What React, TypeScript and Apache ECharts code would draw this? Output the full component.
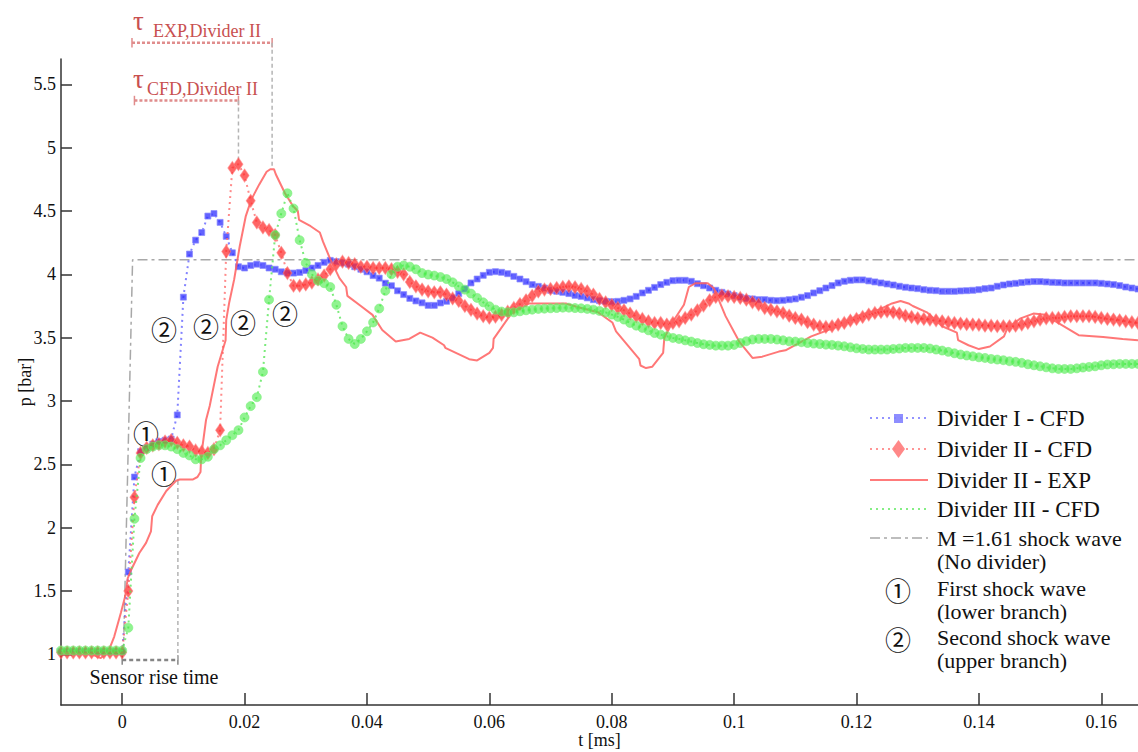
import React, { useEffect, useRef } from "react";
import * as echarts from "echarts";

// ---------- DATA ----------
const T_START = -0.01;
const T_STEP = 0.001;

const dividerI = [
  1.02, 1.02, 1.02, 1.02, 1.02, 1.02, 1.02, 1.02, 1.02, 1.02,
  1.02, 1.65, 2.40, 2.60, 2.63, 2.66, 2.68, 2.69, 2.70, 2.89,
  3.82, 4.16, 4.27, 4.33, 4.46, 4.48, 4.41, 4.30, 4.17, 4.06,
  4.05, 4.07, 4.08, 4.07, 4.05, 4.04, 4.02, 4.01, 4.01, 4.015,
  4.03, 4.05, 4.07, 4.095, 4.11, 4.10, 4.09, 4.08, 4.06, 4.04,
  4.02, 3.99, 3.97, 3.93, 3.91, 3.87, 3.84, 3.81, 3.79, 3.775,
  3.755, 3.755, 3.774, 3.787, 3.814, 3.848, 3.884, 3.932, 3.963, 3.992,
  4.016, 4.021, 4.016, 4.005, 3.984, 3.963, 3.942, 3.919, 3.905, 3.892,
  3.874, 3.866, 3.858, 3.848, 3.834, 3.826, 3.814, 3.80, 3.792, 3.787,
  3.784, 3.787, 3.795, 3.806, 3.826, 3.853, 3.874, 3.897, 3.919, 3.937,
  3.950, 3.953, 3.953, 3.945, 3.926, 3.910, 3.892, 3.874, 3.858, 3.845,
  3.832, 3.821, 3.81, 3.806, 3.80, 3.80, 3.795, 3.792, 3.795, 3.80,
  3.806, 3.819, 3.832, 3.853, 3.871, 3.892, 3.911, 3.932, 3.945, 3.953,
  3.956, 3.956, 3.948, 3.940, 3.932, 3.924, 3.916, 3.906, 3.898, 3.892,
  3.887, 3.879, 3.874, 3.871, 3.866, 3.866, 3.866, 3.869, 3.871, 3.874,
  3.879, 3.887, 3.892, 3.906, 3.916, 3.924, 3.929, 3.935, 3.940, 3.943,
  3.943, 3.940, 3.937, 3.935, 3.932, 3.932, 3.932, 3.932, 3.932, 3.932,
  3.929, 3.924, 3.919, 3.911, 3.90, 3.892, 3.884,
];

const dividerII = [
  1.015, 1.015, 1.015, 1.015, 1.015, 1.015, 1.015, 1.015, 1.015, 1.015,
  1.015, 1.50, 2.24, 2.59, 2.63, 2.65, 2.66, 2.68, 2.69, 2.67,
  2.65, 2.64, 2.61, 2.60, 2.59, 2.62, 2.77, 4.18, 4.84, 4.87,
  4.78, 4.58, 4.41, 4.37, 4.35, 4.31, 4.17, 4.01, 3.91, 3.91,
  3.92, 3.935, 3.96, 3.99, 4.04, 4.08, 4.10, 4.09, 4.08, 4.06,
  4.06, 4.05, 4.05, 4.05, 4.04, 4.02, 4.00, 3.94, 3.905, 3.88,
  3.866, 3.858, 3.858, 3.84, 3.81, 3.79, 3.75, 3.72, 3.69, 3.67,
  3.658, 3.665, 3.68, 3.705, 3.735, 3.765, 3.795, 3.83, 3.865, 3.88,
  3.885, 3.892, 3.90, 3.905, 3.898, 3.885, 3.866, 3.840, 3.806, 3.779,
  3.758, 3.734, 3.716, 3.690, 3.669, 3.648, 3.629, 3.616, 3.616, 3.603,
  3.616, 3.629, 3.656, 3.682, 3.716, 3.753, 3.795, 3.821, 3.832, 3.827,
  3.821, 3.814, 3.80, 3.779, 3.761, 3.734, 3.721, 3.708, 3.695, 3.674,
  3.656, 3.643, 3.622, 3.603, 3.590, 3.585, 3.590, 3.603, 3.616, 3.635,
  3.648, 3.664, 3.682, 3.695, 3.703, 3.708, 3.700, 3.690, 3.674, 3.664,
  3.653, 3.648, 3.643, 3.637, 3.629, 3.622, 3.616, 3.611, 3.606, 3.603,
  3.601, 3.595, 3.595, 3.590, 3.590, 3.590, 3.595, 3.603, 3.616, 3.629,
  3.643, 3.653, 3.656, 3.656, 3.664, 3.669, 3.669, 3.669, 3.669, 3.664,
  3.656, 3.648, 3.643, 3.637, 3.629, 3.622, 3.616,
];

const dividerIII = [
  1.03, 1.03, 1.03, 1.03, 1.03, 1.03, 1.03, 1.03, 1.03, 1.03,
  1.03, 1.21, 2.07, 2.55, 2.62, 2.64, 2.65, 2.65, 2.64, 2.62,
  2.59, 2.57, 2.54, 2.54, 2.56, 2.62, 2.65, 2.69, 2.73, 2.77,
  2.87, 2.96, 3.03, 3.23, 3.80, 4.31, 4.48, 4.64, 4.52, 4.27,
  4.09, 4.00, 3.95, 3.93, 3.90, 3.76, 3.59, 3.49, 3.45, 3.49,
  3.55, 3.62, 3.73, 3.87, 4.00, 4.06, 4.07, 4.06, 4.04, 4.01,
  3.998, 3.990, 3.979, 3.963, 3.937, 3.905, 3.879, 3.848, 3.814, 3.779,
  3.748, 3.721, 3.706, 3.700, 3.700, 3.708, 3.716, 3.721, 3.727, 3.729,
  3.732, 3.734, 3.737, 3.737, 3.734, 3.732, 3.727, 3.721, 3.711, 3.700,
  3.682, 3.664, 3.643, 3.616, 3.595, 3.577, 3.558, 3.537, 3.524, 3.511,
  3.498, 3.490, 3.479, 3.469, 3.458, 3.448, 3.443, 3.437, 3.437, 3.437,
  3.443, 3.458, 3.472, 3.485, 3.490, 3.490, 3.490, 3.485, 3.479, 3.471,
  3.469, 3.464, 3.458, 3.453, 3.450, 3.445, 3.443, 3.437, 3.432, 3.424,
  3.416, 3.411, 3.406, 3.406, 3.406, 3.406, 3.411, 3.414, 3.419, 3.419,
  3.419, 3.419, 3.414, 3.406, 3.398, 3.388, 3.377, 3.367, 3.359, 3.353,
  3.345, 3.340, 3.332, 3.327, 3.322, 3.314, 3.309, 3.301, 3.290, 3.282,
  3.274, 3.266, 3.258, 3.253, 3.253, 3.253, 3.258, 3.264, 3.269, 3.274,
  3.282, 3.288, 3.290, 3.293, 3.293, 3.293, 3.293,
];

const expTime = [
  -0.010, -0.005, -0.0035, -0.0022, -0.0013, -0.0002, 0.0005, 0.0009, 0.0015, 0.0028,
  0.0039, 0.0047, 0.0049, 0.0058, 0.0072, 0.0088, 0.0094, 0.0115, 0.0123, 0.0128,
  0.0129, 0.0137, 0.0143, 0.0156, 0.0169, 0.0170, 0.0175, 0.0183, 0.0192, 0.0202,
  0.0211, 0.0224, 0.0236, 0.0242, 0.0248, 0.0251, 0.0266, 0.0279, 0.0287, 0.0289,
  0.0308, 0.0323, 0.0328, 0.0340, 0.0355, 0.0366, 0.0368, 0.0390, 0.0409, 0.0425,
  0.0447, 0.0469, 0.0487, 0.0507, 0.0526, 0.0528, 0.0567, 0.0580, 0.0600, 0.0606,
  0.0607, 0.0636, 0.0665, 0.0698, 0.0725, 0.0745, 0.0778, 0.0801, 0.0807, 0.0845,
  0.0847, 0.0856, 0.0866, 0.0884, 0.0886, 0.0899, 0.0918, 0.0926, 0.0937, 0.0957,
  0.0967, 0.0986, 0.1005, 0.1008, 0.1030, 0.1046, 0.1073, 0.1084, 0.1126, 0.1170,
  0.1200, 0.1236, 0.1258, 0.1272, 0.1285, 0.1292, 0.1315, 0.1340, 0.1364, 0.1366,
  0.1383, 0.1400, 0.1418, 0.1441, 0.1446, 0.1467, 0.1489, 0.1509, 0.1528, 0.1563,
  0.1603, 0.1635, 0.1660,
];
const expPressure = [
  1.01, 1.00, 0.97, 1.03, 1.14, 1.33, 1.46, 1.60, 1.67, 1.80,
  1.88, 1.97, 2.09, 2.18, 2.29, 2.37, 2.38, 2.38, 2.40, 2.44,
  2.56, 2.85, 2.96, 3.27, 3.48, 3.64, 3.78, 3.96, 4.22, 4.46,
  4.59, 4.71, 4.81, 4.83, 4.83, 4.79, 4.64, 4.54, 4.50, 4.43,
  4.38, 4.33, 4.26, 4.12, 3.97, 3.90, 3.83, 3.75, 3.68, 3.56,
  3.47, 3.49, 3.54, 3.50, 3.44, 3.42, 3.33, 3.32, 3.38, 3.42,
  3.49, 3.69, 3.77, 3.77, 3.77, 3.74, 3.70, 3.62, 3.55, 3.33,
  3.28, 3.26, 3.27, 3.38, 3.50, 3.62, 3.76, 3.90, 3.93, 3.93,
  3.89, 3.67, 3.50, 3.47, 3.34, 3.35, 3.39, 3.40, 3.51, 3.59,
  3.67, 3.72, 3.77, 3.79, 3.77, 3.75, 3.70, 3.59, 3.54, 3.48,
  3.44, 3.41, 3.43, 3.51, 3.57, 3.65, 3.69, 3.68, 3.62, 3.52,
  3.505, 3.49, 3.48,
];

const shockTime = [-0.01, 0.0002, 0.0017, 0.166];
const shockPressure = [1.0, 1.0, 4.115, 4.115];

const xTickValues = [0, 0.02, 0.04, 0.06, 0.08, 0.1, 0.12, 0.14, 0.16];
const yTickValues = [1, 1.5, 2, 2.5, 3, 3.5, 4, 4.5, 5, 5.5];

// annotation anchors (data space)
const sensorRise = { start: 0, end: 0.0091, level: 0.956, top: 2.38 };
const tauExp = { start: 0.0016, end: 0.0245, level: 5.828, peak: 4.84 };
const tauCfd = { start: 0.002, end: 0.019, level: 5.372, peak: 4.906 };

// ---------- STYLE ----------
const SERIF = "'Liberation Serif', 'Times New Roman', serif";
const CJK = "'Noto Sans CJK JP', 'DejaVu Sans', sans-serif";

const toT = (i: number) => +(T_START + i * T_STEP).toFixed(4);

function seg(data: number[][], color: string, type: any, width: number) {
  return {
    type: "line",
    data,
    clip: false,
    silent: true,
    symbol: "none",
    z: 1,
    lineStyle: { color, type, width },
  };
}

function text(
  x: number,
  y: number,
  t: string,
  size: number,
  color = "#111",
  family = SERIF,
  align = "left",
  lineHeight?: number
) {
  return {
    type: "text",
    x,
    y,
    silent: true,
    style: {
      text: t,
      fill: color,
      fontSize: size,
      fontFamily: family,
      lineHeight: lineHeight || undefined,
      align,
      verticalAlign: "middle",
      textAlign: align,
      textVerticalAlign: "middle",
    },
  };
}

function hline(x1: number, x2: number, y: number, stroke: string, dash: any) {
  return {
    type: "line",
    silent: true,
    shape: { x1, y1: y, x2, y2: y },
    style: { stroke, lineWidth: 2, lineDash: dash },
  };
}

export default function App() {
  const ref = useRef<HTMLDivElement>(null);

  useEffect(() => {
    if (!ref.current) return;
    const chart = echarts.init(ref.current, null, { renderer: "svg" });

    const tickDelta = 0.025;
    const bracketColor = "#e08c8c";
    const guideColor = "#b4b4b4";
    const sensorColor = "#858585";

    const annotationSeries = [
      // sensor rise time bracket
      seg([[sensorRise.start, sensorRise.level], [sensorRise.end, sensorRise.level]], sensorColor, [4, 3], 2.5),
      seg([[sensorRise.start, sensorRise.level - tickDelta * 1.5], [sensorRise.start, sensorRise.level + tickDelta * 1.5]], sensorColor, "solid", 1.5),
      seg([[sensorRise.end, sensorRise.level - tickDelta * 1.5], [sensorRise.end, sensorRise.level + tickDelta * 1.5]], sensorColor, "solid", 1.5),
      seg([[sensorRise.end, sensorRise.level], [sensorRise.end, sensorRise.top]], guideColor, [4, 3], 1.5),
      // tau EXP
      seg([[tauExp.start, tauExp.level], [tauExp.end, tauExp.level]], bracketColor, [3, 2], 2.5),
      seg([[tauExp.start, tauExp.level - tickDelta * 1.5], [tauExp.start, tauExp.level + tickDelta * 1.5]], bracketColor, "solid", 1.5),
      seg([[tauExp.end, tauExp.level - tickDelta * 1.5], [tauExp.end, tauExp.level + tickDelta * 1.5]], bracketColor, "solid", 1.5),
      seg([[tauExp.end, tauExp.level], [tauExp.end, tauExp.peak]], guideColor, [4, 3], 1.5),
      // tau CFD
      seg([[tauCfd.start, tauCfd.level], [tauCfd.end, tauCfd.level]], bracketColor, [3, 2], 2.5),
      seg([[tauCfd.start, tauCfd.level - tickDelta * 1.5], [tauCfd.start, tauCfd.level + tickDelta * 1.5]], bracketColor, "solid", 1.5),
      seg([[tauCfd.end, tauCfd.level - tickDelta * 1.5], [tauCfd.end, tauCfd.level + tickDelta * 1.5]], bracketColor, "solid", 1.5),
      seg([[tauCfd.end, tauCfd.level], [tauCfd.end, tauCfd.peak]], guideColor, [4, 3], 1.5),
    ];

    const option: any = {
      animation: false,
      backgroundColor: "#fff",
      grid: {
        left: 61,
        right: 0,
        top: 59,
        bottom: 47,
        containLabel: false,
        outerBoundsMode: "none",
      },
      xAxis: {
        type: "value",
        min: -0.01,
        max: 0.166,
        name: "t [ms]",
        nameLocation: "middle",
        nameGap: 26,
        nameMoveOverlap: false,
        nameTextStyle: { fontFamily: SERIF, fontSize: 18, color: "#111" },
        splitLine: { show: false },
        axisLine: { show: true, onZero: false, lineStyle: { color: "#333", width: 1.5 } },
        axisTick: { show: true, inside: true, length: 12, customValues: xTickValues, lineStyle: { color: "#333", width: 1.5 } },
        axisLabel: { customValues: xTickValues, fontFamily: SERIF, fontSize: 18, color: "#111", margin: 8 },
      },
      yAxis: {
        type: "value",
        min: 0.6,
        max: 5.7,
        name: "p [bar]",
        nameLocation: "middle",
        nameGap: 27,
        nameRotate: 90,
        nameMoveOverlap: false,
        nameTextStyle: { fontFamily: SERIF, fontSize: 18, color: "#111" },
        splitLine: { show: false },
        axisLine: { show: true, onZero: false, lineStyle: { color: "#333", width: 1.5 } },
        axisTick: { show: true, inside: true, length: 11, customValues: yTickValues, lineStyle: { color: "#333", width: 1.5 } },
        axisLabel: { customValues: yTickValues, fontFamily: SERIF, fontSize: 18, color: "#111", margin: 5 },
      },
      series: [
        {
          name: "M =1.61 shock wave",
          type: "line",
          data: shockTime.map((t, i) => [t, shockPressure[i]]),
          symbol: "none",
          z: 1,
          lineStyle: { color: "#a8a8a8", width: 1.5, type: [10, 4, 3, 4] },
        },
        ...annotationSeries,
        {
          name: "Divider I - CFD",
          type: "line",
          data: dividerI.map((p, i) => [toT(i), p]),
          symbol: "rect",
          symbolSize: 6,
          showAllSymbol: true,
          z: 3,
          lineStyle: { color: "rgba(90,90,255,0.75)", width: 2, type: [2, 4] },
          itemStyle: { color: "rgba(45,45,255,0.75)", borderColor: "rgba(140,140,255,0.7)", borderWidth: 1 },
        },
        {
          name: "Divider II - CFD",
          type: "line",
          data: dividerII.map((p, i) => [toT(i), p]),
          symbol: "diamond",
          symbolSize: [9, 13],
          showAllSymbol: true,
          z: 4,
          lineStyle: { color: "rgba(255,110,110,0.8)", width: 2, type: [2, 4] },
          itemStyle: { color: "rgba(255,40,40,0.72)", borderColor: "rgba(255,130,130,0.6)", borderWidth: 1 },
        },
        {
          name: "Divider II - EXP",
          type: "line",
          data: expTime.map((t, i) => [t, expPressure[i]]),
          symbol: "none",
          z: 5,
          lineStyle: { color: "rgba(255,95,95,0.85)", width: 2 },
        },
        {
          name: "Divider III - CFD",
          type: "line",
          data: dividerIII.map((p, i) => [toT(i), p]),
          symbol: "circle",
          symbolSize: 9,
          showAllSymbol: true,
          z: 6,
          lineStyle: { color: "rgba(90,230,90,0.8)", width: 2, type: [2, 4] },
          itemStyle: { color: "rgba(70,235,70,0.6)", borderColor: "rgba(120,240,120,0.6)", borderWidth: 1 },
        },
      ],
      graphic: [
        // tau labels
        text(133, 21, "τ", 27, "#c85050"),
        text(153, 31, "EXP,Divider II", 18, "#c85050"),
        text(133, 79, "τ", 27, "#c85050"),
        text(147, 89, "CFD,Divider II", 18, "#c85050"),
        // sensor rise time
        text(154, 677, "Sensor rise time", 20, "#111", SERIF, "center"),
        // circled markers in plot
        text(146, 432, "①", 26, "#111", CJK, "center"),
        text(164, 472, "①", 26, "#111", CJK, "center"),
        text(164, 328, "②", 26, "#111", CJK, "center"),
        text(206, 325, "②", 26, "#111", CJK, "center"),
        text(243, 321, "②", 26, "#111", CJK, "center"),
        text(285, 312, "②", 26, "#111", CJK, "center"),
        // legend glyphs
        hline(870, 928, 418, "rgba(120,120,255,0.8)", [2, 4]),
        { type: "rect", silent: true, shape: { x: 894, y: 414, width: 9, height: 9 }, style: { fill: "rgba(130,130,255,0.9)" } },
        hline(870, 928, 449, "rgba(255,130,130,0.85)", [2, 4]),
        { type: "polygon", silent: true, shape: { points: [[898.5, 440], [905, 449], [898.5, 458], [892, 449]] }, style: { fill: "rgba(255,130,130,0.95)" } },
        { type: "line", silent: true, shape: { x1: 870, y1: 480, x2: 928, y2: 480 }, style: { stroke: "rgba(255,100,100,0.85)", lineWidth: 2 } },
        hline(870, 928, 509, "rgba(110,235,110,0.85)", [2, 4]),
        { type: "line", silent: true, shape: { x1: 870, y1: 538, x2: 928, y2: 538 }, style: { stroke: "#a8a8a8", lineWidth: 1.5, lineDash: [10, 4, 3, 4] } },
        text(898, 589, "①", 26, "#111", CJK, "center"),
        text(898, 638, "②", 26, "#111", CJK, "center"),
        // legend texts
        text(937, 418, "Divider I - CFD", 23),
        text(937, 449, "Divider II - CFD", 23),
        text(937, 480, "Divider II - EXP", 23),
        text(937, 509, "Divider III - CFD", 23),
        text(937, 549.5, "M =1.61 shock wave\n(No divider)", 22, "#111", SERIF, "left", 23),
        text(937, 600, "First shock wave\n(lower branch)", 22, "#111", SERIF, "left", 23),
        text(937, 649, "Second shock wave\n(upper branch)", 22, "#111", SERIF, "left", 23),
      ],
    };

    chart.setOption(option);
    return () => chart.dispose();
  }, []);

  return (
    <div
      ref={ref}
      style={{ position: "fixed", left: 0, top: 0, width: 1138, height: 752, background: "#fff" }}
    />
  );
}
